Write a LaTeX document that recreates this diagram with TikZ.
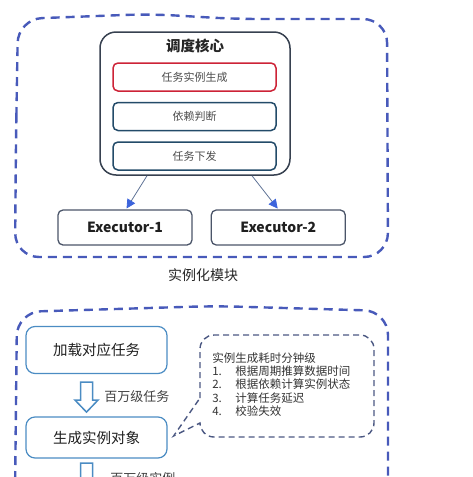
\documentclass[tikz,border=0pt]{standalone}
\usepackage{fontspec}
\setmainfont{Noto Sans CJK SC}
\usepackage{tikz}
\usetikzlibrary{arrows.meta,positioning}

\definecolor{regionblue}{RGB}{72,90,186}
\definecolor{coregray}{RGB}{55,65,80}
\definecolor{hotred}{RGB}{205,35,55}
\definecolor{tealline}{RGB}{35,75,105}
\definecolor{execline}{RGB}{75,85,105}
\definecolor{flowline}{RGB}{95,115,150}
\definecolor{flowtip}{RGB}{60,100,220}
\definecolor{stageblue}{RGB}{75,140,195}
\definecolor{notegray}{RGB}{75,88,130}

\tikzset{hollowdown/.pic={
  \draw[draw=stageblue,line width=1.5pt,fill=white,line join=miter]
    (-6,0) -- (6,0) -- (6,18) -- (11.5,18) -- (0,30) -- (-11.5,18) -- (-6,18) -- cycle;
}}

\begin{document}
\begin{tikzpicture}[x=1pt,y=-1pt,semithick]
    \tikzstyle{region}=[draw=regionblue,line width=2.4pt,dash pattern=on 9pt off 6pt,rounded corners=24pt]
    \tikzstyle{core}=[draw=coregray,line width=1.5pt,rounded corners=16pt,minimum width=190pt,minimum height=143pt]
    \tikzstyle{subtask}=[draw=tealline,line width=1.5pt,rounded corners=5pt,minimum width=163pt,minimum height=28pt,inner sep=0pt,text=black!70,font=\fontsize{11pt}{13pt}\selectfont]
    \tikzstyle{executor}=[draw=execline,line width=1.3pt,rounded corners=5pt,minimum width=134pt,minimum height=35pt,inner sep=0pt,text=black!88,font=\fontsize{14pt}{16pt}\selectfont\bfseries]
    \tikzstyle{flow}=[draw=flowline,line width=0.8pt,-{Triangle[length=9pt,width=9pt,color=flowtip]},shorten >=1pt]
    \tikzstyle{stage}=[draw=stageblue,line width=1.2pt,rounded corners=9pt,minimum width=141pt,inner sep=0pt,text=black!88,font=\fontsize{14.5pt}{17pt}\selectfont]
    \tikzstyle{volume}=[anchor=west,inner sep=0pt,text=black!75,font=\fontsize{13pt}{15pt}\selectfont]
    \tikzstyle{note}=[draw=notegray,line width=1.4pt,dash pattern=on 6pt off 4pt]
    \clip (0,0) rectangle (473,477);

    \draw[region] (16,140) -- (18,19) -- (150,14) -- (235,19) -- (387,19) -- (388,257) -- (15,257) -- cycle;

    \node[core] (core) at (195,103.5) {};
    \node[font=\fontsize{14.5pt}{17pt}\selectfont\bfseries,text=black!85] (coretitle) at ([yshift=-15pt]core.north) {调度核心};
    \node[subtask,draw=hotred] (gen) at (194.5,77) {任务实例生成};
    \node[subtask,below=10pt of gen] (dep) {依赖判断};
    \node[subtask,below=10pt of dep] (dispatch) {任务下发};

    \node[executor] (exec1) at (125,227.5) {Executor-1};
    \node[executor,right=18pt of exec1] (exec2) {Executor-2};
    \draw[flow] ([xshift=-48pt]core.south) -- ([xshift=1pt]exec1.north);
    \draw[flow] ([xshift=57pt]core.south) -- (exec2.north);

    \node[text=black!85,font=\fontsize{14pt}{16pt}\selectfont] (modname) at (203,275) {实例化模块};

    \draw[region] (15,495) -- (17,312) -- (215,306) -- (388,311) -- (388,495);

    \node[stage,minimum height=47pt] (load) at (96.5,350) {加载对应任务};
    \node[stage,minimum height=41pt] (obj) at (96.5,437.5) {生成实例对象};
    \pic at ([xshift=-10pt,yshift=-8pt]load.south) {hollowdown};
    \node[volume] (vol1) at ([xshift=7.5pt,yshift=-22.5pt]load.south) {百万级任务};
    \pic at ([xshift=-10pt,yshift=-4.5pt]obj.south) {hollowdown};
    \node[volume] (vol2) at ([xshift=13.5pt,yshift=-20pt]obj.south) {百万级实例};

    \coordinate (tip) at ([xshift=6pt,yshift=1.5pt]obj.east);
    \draw[note] (200,398) [rounded corners=14pt] -- (200,335) -- (374,335) -- (374,437) -- (200,437) [sharp corners] -- (200,423) -- (tip) -- cycle;
    \node[anchor=north west,align=left,inner sep=0pt,text=black!80,font=\fontsize{11.5pt}{13.4pt}\selectfont] (notebody) at (212,352)
        {实例生成耗时分钟级\\
         \makebox[23pt][l]{1.}根据周期推算数据时间\\
         \makebox[23pt][l]{2.}根据依赖计算实例状态\\
         \makebox[23pt][l]{3.}计算任务延迟\\
         \makebox[23pt][l]{4.}校验失效};
\end{tikzpicture}
\end{document}
